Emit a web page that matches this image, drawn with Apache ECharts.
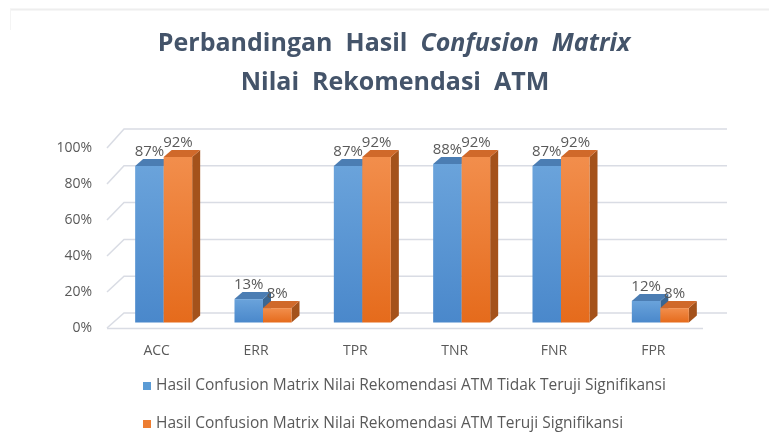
<!DOCTYPE html>
<html>
<head>
<meta charset="utf-8">
<script src="https://cdn.jsdelivr.net/npm/echarts@6/dist/echarts.min.js"></script>
<style>
html,body{margin:0;padding:0;background:#fff;}
#chart{width:769px;height:446px;}
</style>
</head>
<body>
<div id="chart"></div>
<script>
const categories = ['ACC', 'ERR', 'TPR', 'TNR', 'FNR', 'FPR'];
const seriesNames = [
  'Hasil Confusion Matrix Nilai Rekomendasi ATM Tidak Teruji Signifikansi',
  'Hasil Confusion Matrix Nilai Rekomendasi ATM Teruji Signifikansi'
];
const tidakTeruji = [87, 13, 87, 88, 87, 12];
const teruji = [92, 8, 92, 92, 92, 8];
const yTicks = [0, 20, 40, 60, 80, 100];

const palettes = [
  { front: ['#6AA3DB', '#4A88CB'], top: '#4B7DB3', side: '#3A6692', legend: '#5B9BD5' },
  { front: ['#F28E4C', '#E56B1C'], top: '#D0692A', side: '#A4521B', legend: '#ED7D31' }
];

const SX = 7, SY = 5.5, DX = 8, DY = 7;

function barRenderer(si) {
  return function (params, api) {
    const ci = api.value(0), v = api.value(1);
    const c = api.coord([ci, v]);
    const b = api.coord([ci, 0]);
    const band = api.size([1, 0])[0];
    const bw = band * 0.287;
    const x0 = c[0] + SX + (si === 0 ? -bw : 0);
    const x1 = x0 + bw;
    const yT = c[1] - SY, yB = b[1] - SY;
    const p = palettes[si];
    return {
      type: 'group',
      children: [
        { type: 'polygon', shape: { points: [[x1, yT], [x1 + DX, yT - DY], [x1 + DX, yB - DY], [x1, yB]] }, style: { fill: p.side } },
        { type: 'rect', shape: { x: x0, y: yT, width: bw, height: yB - yT },
          style: { fill: new echarts.graphic.LinearGradient(0, 0, 0, 1, [{ offset: 0, color: p.front[0] }, { offset: 1, color: p.front[1] }]) } },
        { type: 'polygon', shape: { points: [[x0, yT], [x1, yT], [x1 + DX, yT - DY], [x0 + DX, yT - DY]] }, style: { fill: p.top } },
        { type: 'text', z2: 10, style: { text: v + '%', x: (x0 + x1) / 2, y: yT - 7, align: 'center', verticalAlign: 'bottom',
          fill: '#595959', font: '15px "Open Sans"' } }
      ]
    };
  };
}

function gridRenderer(params, api) {
  const cs = params.coordSys;
  const v = api.value(1);
  const y = api.coord([0, v])[1];
  const dy = 15 + 4 * v / 100;
  const children = [
    { type: 'polyline', shape: { points: [[cs.x, y], [cs.x + 17, y - dy], [cs.x + cs.width + 24, y - dy]] },
      style: { stroke: '#D9DCE4', lineWidth: 1.5, fill: null } }
  ];
  if (v === 0) {
    children.push({ type: 'line', shape: { x1: cs.x, y1: y + 0.5, x2: cs.x + cs.width, y2: y + 0.5 },
      style: { stroke: '#D9DCE4', lineWidth: 1.5 } });
  }
  return { type: 'group', children: children };
}

const titleRich = {
  a: { fontFamily: 'Open Sans', fontWeight: 'bold', fontSize: 25, fill: '#44546A' },
  b: { fontFamily: 'Open Sans', fontWeight: 'bold', fontStyle: 'italic', fontSize: 25, fill: '#44546A' }
};

const chart = echarts.init(document.getElementById('chart'));
chart.setOption({
  backgroundColor: '#ffffff',
  animation: false,
  legend: {
    orient: 'vertical',
    left: 138,
    top: 373,
    itemWidth: 8,
    itemHeight: 8,
    itemGap: 22,
    icon: 'rect',
    textStyle: { fontFamily: 'Open Sans', fontSize: 15.5, color: '#595959' },
    data: seriesNames
  },
  grid: { left: 107, right: 66, top: 148, bottom: 118 },
  xAxis: {
    type: 'category',
    data: categories,
    axisLine: { show: false },
    axisTick: { show: false },
    axisLabel: { margin: 16, color: '#595959', fontFamily: 'Open Sans', fontSize: 14 }
  },
  yAxis: {
    type: 'value',
    min: 0, max: 100, interval: 20,
    axisLine: { show: false },
    axisTick: { show: false },
    splitLine: { show: false },
    axisLabel: { formatter: '{value}%', margin: 15, color: '#595959', fontFamily: 'Open Sans', fontSize: 14 }
  },
  graphic: [
    { type: 'line', shape: { x1: 10, y1: 9.5, x2: 769, y2: 9.5 }, style: { stroke: '#EEEEEE', lineWidth: 2 } },
    { type: 'line', shape: { x1: 10.5, y1: 9, x2: 10.5, y2: 30 }, style: { stroke: '#F4F4F4', lineWidth: 1 } },
    { type: 'text', x: 394, y: 44, style: { text: '{a|Perbandingan  Hasil  }{b|Confusion  Matrix}', rich: titleRich,
      align: 'center', verticalAlign: 'middle' } },
    { type: 'text', x: 395, y: 83, style: { text: '{a|Nilai  Rekomendasi  ATM}', rich: titleRich,
      align: 'center', verticalAlign: 'middle' } }
  ],
  series: [
    { type: 'custom', name: 'grid', silent: true, z: 1, renderItem: gridRenderer,
      data: yTicks.map(v => [0, v]), encode: { x: 0, y: 1 } },
    { type: 'custom', name: seriesNames[0], z: 2, renderItem: barRenderer(0),
      itemStyle: { color: palettes[0].legend },
      data: tidakTeruji.map((v, i) => [i, v]), encode: { x: 0, y: 1 } },
    { type: 'custom', name: seriesNames[1], z: 3, renderItem: barRenderer(1),
      itemStyle: { color: palettes[1].legend },
      data: teruji.map((v, i) => [i, v]), encode: { x: 0, y: 1 } }
  ]
});
</script>
</body>
</html>
